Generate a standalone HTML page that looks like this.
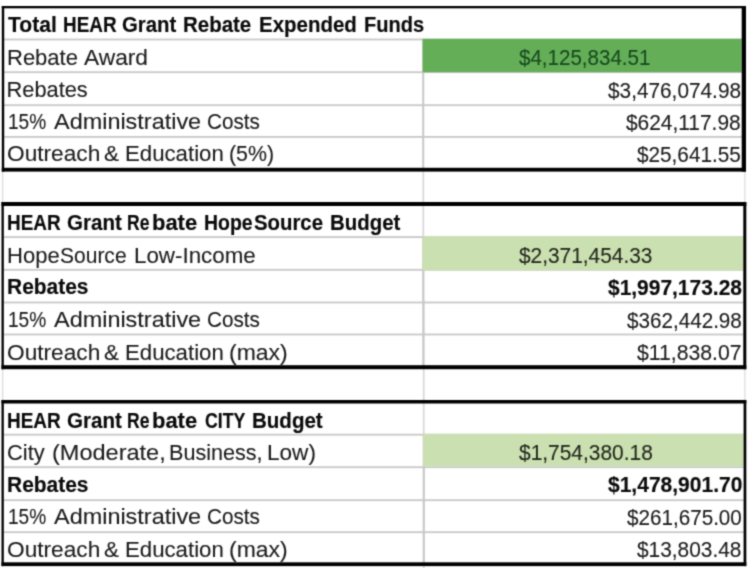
<!DOCTYPE html>
<html><head><meta charset="utf-8"><title>HEAR Grant Rebate</title>
<style>
html,body{margin:0;padding:0;background:#fff;}
body{width:750px;height:568px;position:relative;overflow:hidden;font-family:"Liberation Sans",sans-serif;}
#wrap{position:absolute;left:0;top:0;width:750px;height:568px;background:#fff;overflow:hidden;filter:url(#soft);}
#grid{position:absolute;left:0;top:0;}
.t{position:absolute;white-space:nowrap;line-height:normal;transform-origin:0 0;font-weight:400;font-size:21.8px;color:#1c1c1c;-webkit-text-stroke:0.12px #1c1c1c;}
.b{font-weight:700;color:#0a0a0a;-webkit-text-stroke:0.16px #0a0a0a;}
</style></head><body>
<svg width="0" height="0" style="position:absolute"><defs><filter id="soft" x="0" y="0" width="100%" height="100%" color-interpolation-filters="sRGB"><feConvolveMatrix order="3" kernelMatrix="0.0311 0.1141 0.0311 0.1141 0.4191 0.1141 0.0311 0.1141 0.0311" edgeMode="duplicate" preserveAlpha="true"/></filter></defs></svg>
<div id="wrap">
<svg id="grid" width="750" height="568" viewBox="0 0 750 568">
<rect x="422.40" y="170.00" width="1.80" height="130.00" fill="#d9d9d9"/>
<rect x="422.80" y="300.00" width="1.80" height="268.00" fill="#d9d9d9"/>
<rect x="744.20" y="170.00" width="1.30" height="232.00" fill="#dedede"/>
<rect x="1.90" y="170.00" width="1.40" height="232.00" fill="#dedede"/>
<rect x="4.20" y="38.60" width="737.50" height="1.80" fill="#c8c8c8"/>
<rect x="4.20" y="71.30" width="737.50" height="1.80" fill="#c8c8c8"/>
<rect x="4.20" y="104.30" width="737.50" height="1.80" fill="#c8c8c8"/>
<rect x="4.20" y="136.00" width="737.50" height="1.80" fill="#c8c8c8"/>
<rect x="422.20" y="39.50" width="2.00" height="130.30" fill="#c8c8c8"/>
<rect x="422.60" y="38.80" width="319.10" height="33.40" fill="#64ae58"/>
<rect x="1.80" y="6.00" width="744.20" height="2.30" fill="#000"/>
<rect x="1.80" y="167.80" width="744.20" height="3.80" fill="#000"/>
<rect x="1.80" y="6.00" width="2.40" height="165.60" fill="#000"/>
<rect x="741.70" y="6.00" width="4.30" height="165.60" fill="#000"/>
<rect x="3.80" y="236.20" width="739.50" height="1.80" fill="#c8c8c8"/>
<rect x="3.80" y="268.90" width="739.50" height="1.80" fill="#c8c8c8"/>
<rect x="3.80" y="301.60" width="739.50" height="1.80" fill="#c8c8c8"/>
<rect x="3.80" y="333.60" width="739.50" height="1.80" fill="#c8c8c8"/>
<rect x="422.30" y="237.10" width="2.00" height="130.10" fill="#c8c8c8"/>
<rect x="422.70" y="236.40" width="320.60" height="33.80" fill="#cbe0b0"/>
<rect x="1.50" y="202.00" width="744.80" height="4.00" fill="#000"/>
<rect x="1.50" y="365.20" width="744.80" height="4.00" fill="#000"/>
<rect x="1.50" y="202.00" width="2.30" height="167.20" fill="#000"/>
<rect x="743.30" y="202.00" width="3.00" height="167.20" fill="#000"/>
<rect x="3.80" y="433.80" width="739.80" height="1.80" fill="#c8c8c8"/>
<rect x="3.80" y="466.30" width="739.80" height="1.80" fill="#c8c8c8"/>
<rect x="3.80" y="499.30" width="739.80" height="1.80" fill="#c8c8c8"/>
<rect x="3.80" y="531.30" width="739.80" height="1.80" fill="#c8c8c8"/>
<rect x="422.80" y="434.70" width="2.00" height="129.50" fill="#c8c8c8"/>
<rect x="423.30" y="433.80" width="320.30" height="32.50" fill="#cbe0b0"/>
<rect x="1.50" y="400.00" width="744.80" height="3.50" fill="#000"/>
<rect x="1.50" y="562.30" width="744.80" height="3.80" fill="#000"/>
<rect x="1.50" y="400.00" width="2.30" height="166.10" fill="#000"/>
<rect x="743.60" y="400.00" width="2.70" height="166.10" fill="#000"/>
</svg>
<div class="t b" style="left:7.79px;top:12.27px;transform:scaleX(0.9668)">Total</div>
<div class="t b" style="left:62.88px;top:12.27px;transform:scaleX(0.8672)">HEAR</div>
<div class="t b" style="left:121.69px;top:12.27px;transform:scaleX(0.9332)">Grant</div>
<div class="t b" style="left:183.27px;top:12.27px;transform:scaleX(0.9387)">Rebate</div>
<div class="t b" style="left:259.37px;top:12.27px;transform:scaleX(0.9392)">Expended</div>
<div class="t b" style="left:363.90px;top:12.27px;transform:scaleX(0.9206)">Funds</div>
<div class="t" style="left:6.54px;top:45.27px;transform:scaleX(1.0092)">Rebate</div>
<div class="t" style="left:84.20px;top:45.27px;transform:scaleX(1.0425)">Award</div>
<div class="t" style="left:518.99px;top:46.26px;font-size:21.15px;color:#184a1f;-webkit-text-stroke-color:#184a1f;transform:scaleX(0.9719)">$4,125,834.51</div>
<div class="t" style="left:6.56px;top:77.27px;transform:scaleX(1.0000)">Rebates</div>
<div class="t" style="left:608.09px;top:77.87px;transform:scaleX(0.9543)">$3,476,074.98</div>
<div class="t" style="left:7.67px;top:109.27px;transform:scaleX(0.8762)">15%</div>
<div class="t" style="left:53.70px;top:109.27px;transform:scaleX(1.0750)">Administrative</div>
<div class="t" style="left:206.96px;top:109.27px;transform:scaleX(0.9509)">Costs</div>
<div class="t" style="left:626.49px;top:109.97px;transform:scaleX(0.9588)">$624,117.98</div>
<div class="t" style="left:6.87px;top:141.27px;transform:scaleX(1.0401)">Outreach</div>
<div class="t" style="left:104.40px;top:141.27px;transform:scaleX(1.0302)">&amp;</div>
<div class="t" style="left:124.92px;top:141.27px;transform:scaleX(1.0188)">Education</div>
<div class="t" style="left:228.72px;top:141.27px;transform:scaleX(0.9797)">(5%)</div>
<div class="t" style="left:637.29px;top:141.97px;transform:scaleX(0.9517)">$25,641.55</div>
<div class="t b" style="left:6.67px;top:210.27px;transform:scaleX(0.8706)">HEAR</div>
<div class="t b" style="left:66.68px;top:210.27px;transform:scaleX(0.9419)">Grant</div>
<div class="t b" style="left:127.47px;top:210.27px;transform:scaleX(0.8037)">Re</div>
<div class="t b" style="left:152.16px;top:210.27px;transform:scaleX(1.0068)">bate</div>
<div class="t b" style="left:204.44px;top:210.27px;transform:scaleX(0.8926)">Hope</div>
<div class="t b" style="left:254.09px;top:210.27px;transform:scaleX(0.9340)">Source</div>
<div class="t b" style="left:330.27px;top:210.27px;transform:scaleX(0.9365)">Budget</div>
<div class="t" style="left:6.54px;top:243.27px;transform:scaleX(1.0104)">Hope</div>
<div class="t" style="left:60.25px;top:243.27px;transform:scaleX(0.9638)">Source</div>
<div class="t" style="left:134.01px;top:243.27px;transform:scaleX(1.0252)">Low-Income</div>
<div class="t" style="left:518.99px;top:243.17px;color:#23281f;-webkit-text-stroke-color:#23281f;transform:scaleX(0.9572)">$2,371,454.33</div>
<div class="t b" style="left:6.83px;top:274.27px;transform:scaleX(0.9611)">Rebates</div>
<div class="t b" style="left:607.58px;top:274.77px;transform:scaleX(0.9608)">$1,997,173.28</div>
<div class="t" style="left:7.67px;top:307.27px;transform:scaleX(0.8762)">15%</div>
<div class="t" style="left:53.70px;top:307.27px;transform:scaleX(1.0750)">Administrative</div>
<div class="t" style="left:206.96px;top:307.27px;transform:scaleX(0.9509)">Costs</div>
<div class="t" style="left:626.79px;top:307.87px;transform:scaleX(0.9474)">$362,442.98</div>
<div class="t" style="left:6.87px;top:339.77px;transform:scaleX(1.0401)">Outreach</div>
<div class="t" style="left:104.40px;top:339.77px;transform:scaleX(1.0302)">&amp;</div>
<div class="t" style="left:124.92px;top:339.77px;transform:scaleX(1.0188)">Education</div>
<div class="t" style="left:228.62px;top:339.77px;transform:scaleX(1.0533)">(max)</div>
<div class="t" style="left:637.29px;top:340.27px;transform:scaleX(0.9730)">$11,838.07</div>
<div class="t b" style="left:6.67px;top:407.77px;transform:scaleX(0.8706)">HEAR</div>
<div class="t b" style="left:66.68px;top:407.77px;transform:scaleX(0.9419)">Grant</div>
<div class="t b" style="left:127.47px;top:407.77px;transform:scaleX(0.8037)">Re</div>
<div class="t b" style="left:152.16px;top:407.77px;transform:scaleX(1.0068)">bate</div>
<div class="t b" style="left:204.59px;top:407.77px;transform:scaleX(0.8141)">CITY</div>
<div class="t b" style="left:251.86px;top:407.77px;transform:scaleX(0.9420)">Budget</div>
<div class="t" style="left:6.61px;top:439.77px;transform:scaleX(1.0026)">City</div>
<div class="t" style="left:51.59px;top:439.77px;transform:scaleX(1.0788)">(Moderate,</div>
<div class="t" style="left:169.07px;top:439.77px;transform:scaleX(0.9900)">Business,</div>
<div class="t" style="left:267.40px;top:439.77px;transform:scaleX(1.0349)">Low)</div>
<div class="t" style="left:518.79px;top:440.27px;color:#23281f;-webkit-text-stroke-color:#23281f;transform:scaleX(0.9601)">$1,754,380.18</div>
<div class="t b" style="left:6.83px;top:471.77px;transform:scaleX(0.9611)">Rebates</div>
<div class="t b" style="left:607.58px;top:472.37px;transform:scaleX(0.9638)">$1,478,901.70</div>
<div class="t" style="left:7.67px;top:504.27px;transform:scaleX(0.8762)">15%</div>
<div class="t" style="left:53.70px;top:504.27px;transform:scaleX(1.0750)">Administrative</div>
<div class="t" style="left:206.96px;top:504.27px;transform:scaleX(0.9509)">Costs</div>
<div class="t" style="left:626.79px;top:504.97px;transform:scaleX(0.9474)">$261,675.00</div>
<div class="t" style="left:6.87px;top:536.77px;transform:scaleX(1.0401)">Outreach</div>
<div class="t" style="left:104.40px;top:536.77px;transform:scaleX(1.0302)">&amp;</div>
<div class="t" style="left:124.92px;top:536.77px;transform:scaleX(1.0188)">Education</div>
<div class="t" style="left:228.62px;top:536.77px;transform:scaleX(1.0533)">(max)</div>
<div class="t" style="left:637.29px;top:537.07px;transform:scaleX(0.9573)">$13,803.48</div>
</div></body></html>
